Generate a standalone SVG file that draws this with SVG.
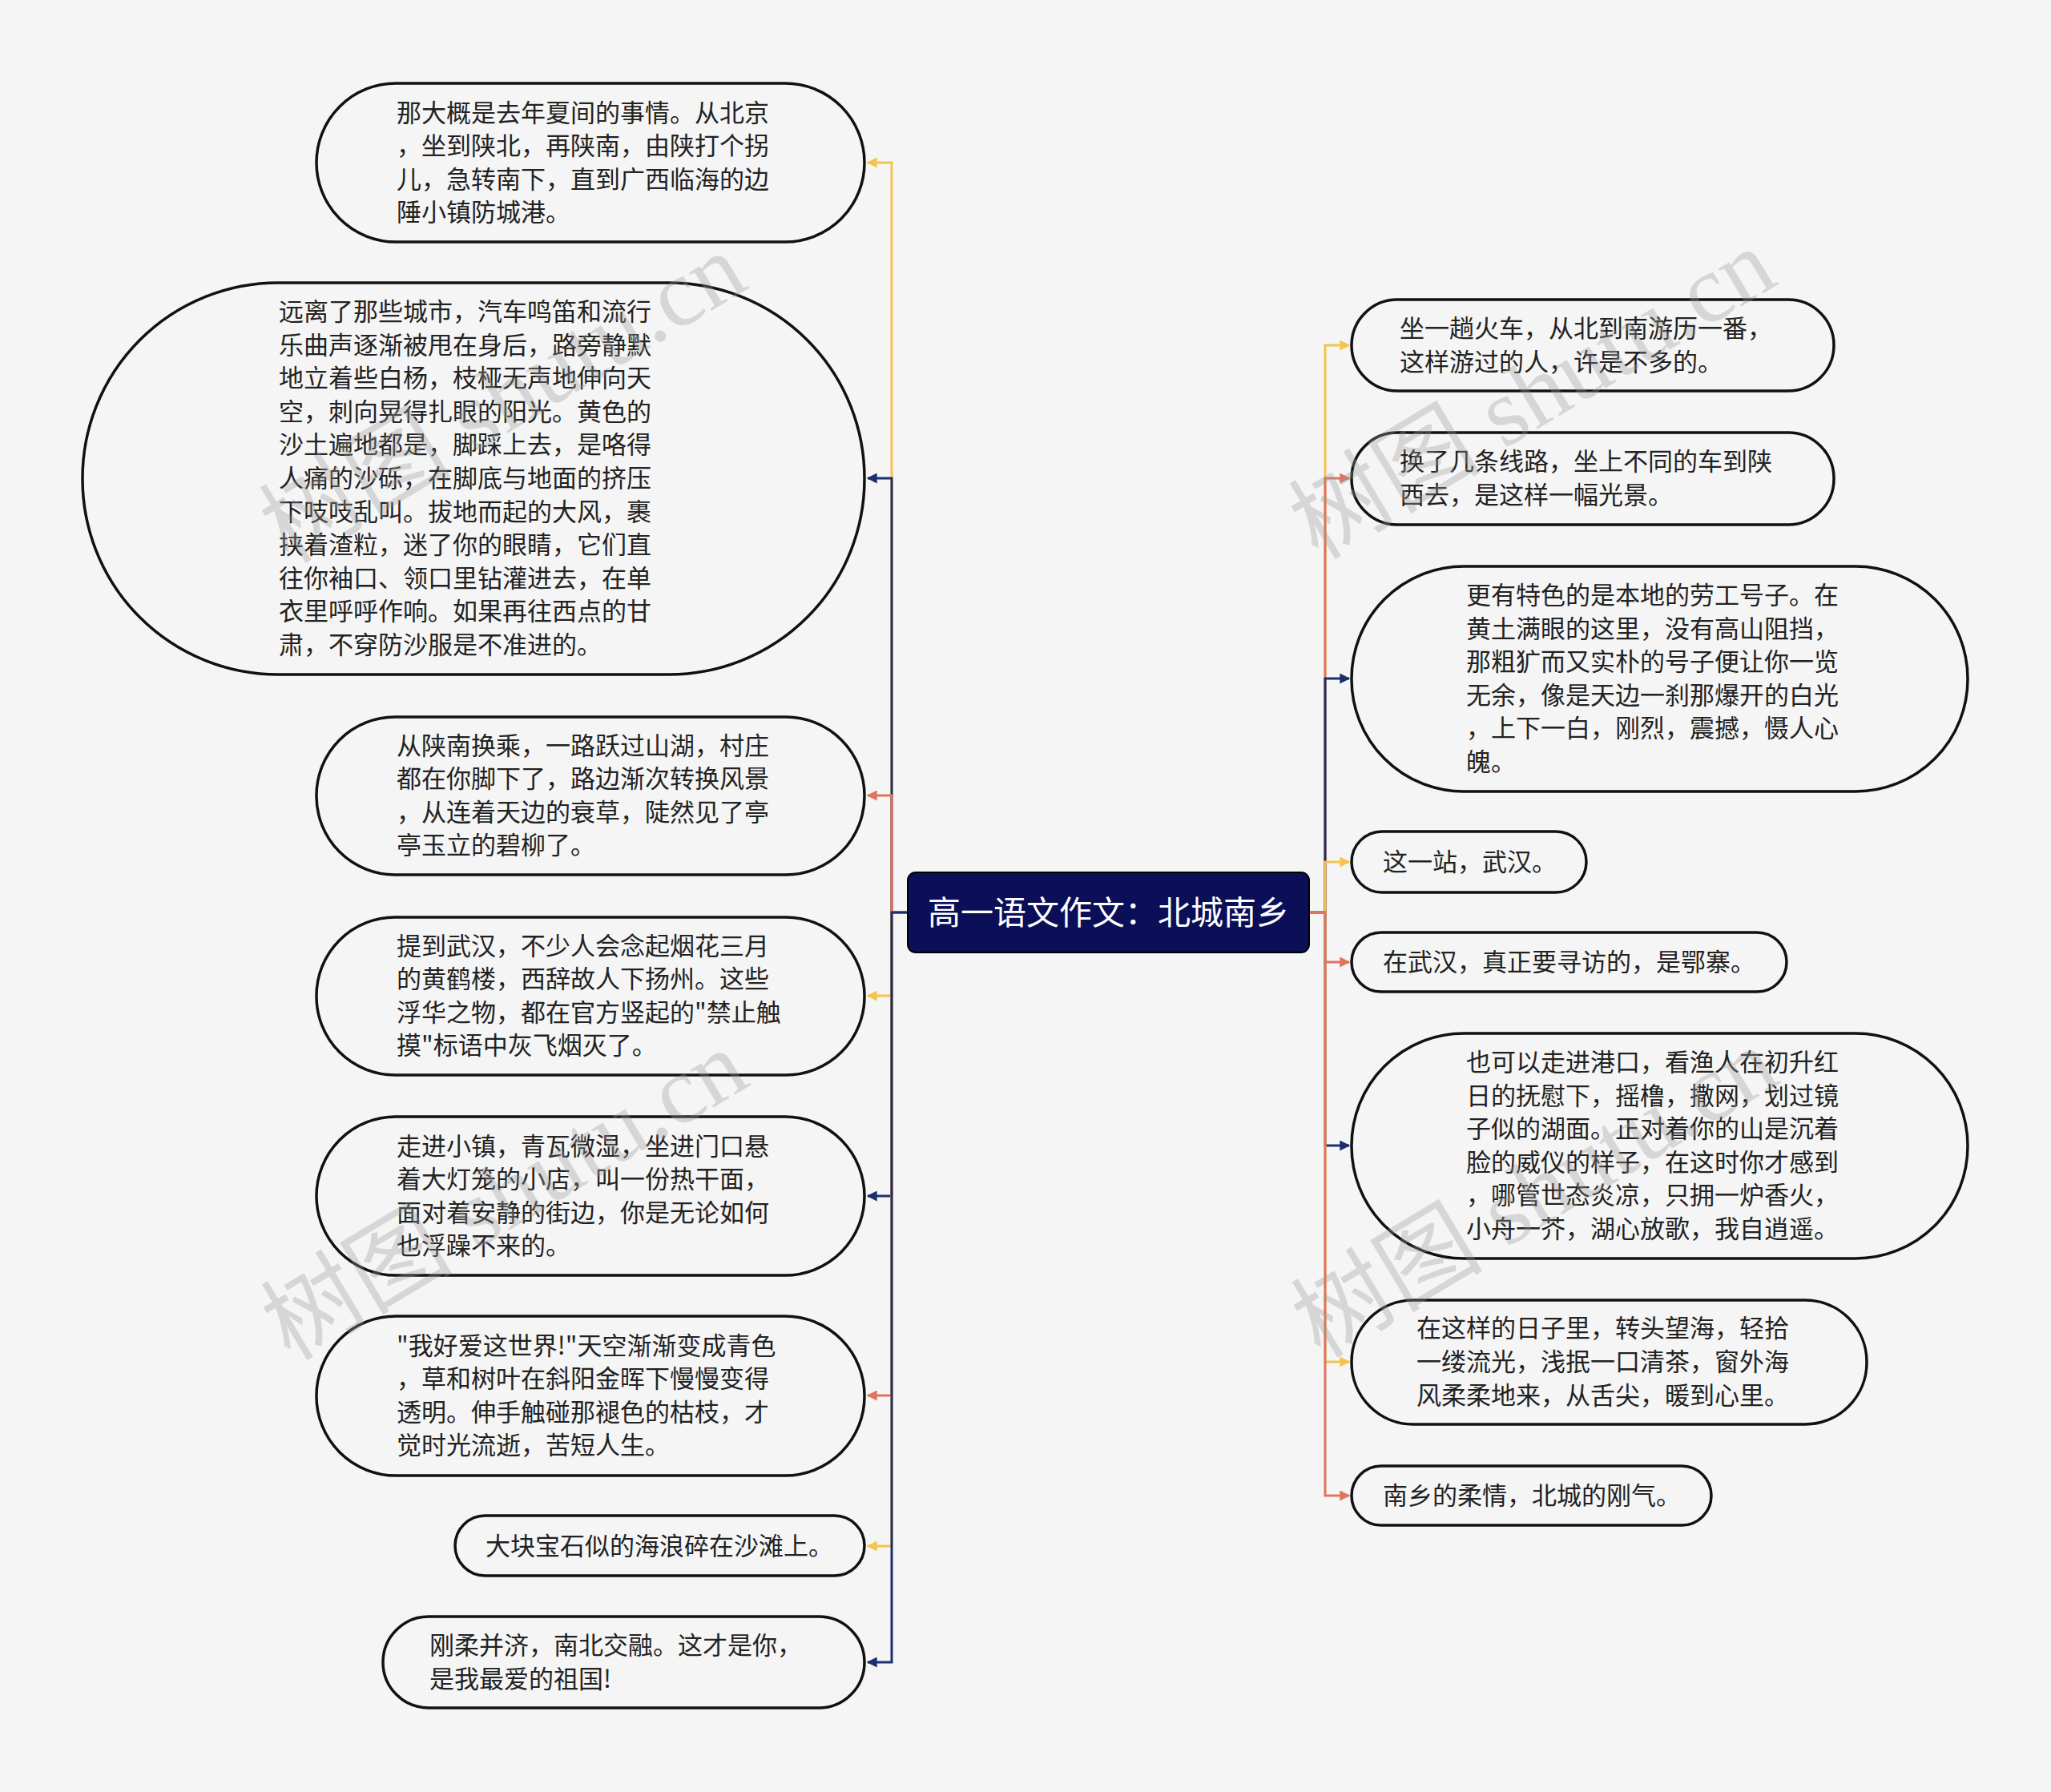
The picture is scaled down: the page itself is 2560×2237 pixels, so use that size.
<svg xmlns="http://www.w3.org/2000/svg" width="2560" height="2237" viewBox="0 0 2560 2237">
<defs>
<style>
.node{fill:#f5f5f5;stroke:#111;stroke-width:3.5}
.t{font-family:"Noto Sans CJK SC","Liberation Sans",sans-serif;font-size:31px;fill:#222}
.ct{font-family:"Noto Sans CJK SC","Liberation Sans",sans-serif;font-size:41px;fill:#fff}
.c{fill:none;stroke-width:3}
.y{stroke:#F4C44F}
.r{stroke:#DF7460}
.n{stroke:#1C2E6E}
.wm{font-family:"Liberation Serif","Noto Sans CJK SC",serif;font-size:120px;fill:#999;opacity:0.33}
</style>
<marker id="ay" viewBox="0 0 10 10" refX="9" refY="5" markerWidth="14" markerHeight="13" markerUnits="userSpaceOnUse" orient="auto"><path d="M0 0L10 5L0 10z" fill="#F4C44F"/></marker>
<marker id="ar" viewBox="0 0 10 10" refX="9" refY="5" markerWidth="14" markerHeight="13" markerUnits="userSpaceOnUse" orient="auto"><path d="M0 0L10 5L0 10z" fill="#DF7460"/></marker>
<marker id="an" viewBox="0 0 10 10" refX="9" refY="5" markerWidth="14" markerHeight="13" markerUnits="userSpaceOnUse" orient="auto"><path d="M0 0L10 5L0 10z" fill="#1C2E6E"/></marker>
</defs>
<rect width="2560" height="2237" fill="#f5f5f5"/>
<g id="connectors">
<path class="c y" d="M1133 1139H1113V203H1083" marker-end="url(#ay)"/>
<path class="c n" d="M1133 1139H1113V597H1083" marker-end="url(#an)"/>
<path class="c r" d="M1133 1139H1113V993H1083" marker-end="url(#ar)"/>
<path class="c y" d="M1133 1139H1113V1243H1083" marker-end="url(#ay)"/>
<path class="c n" d="M1133 1139H1113V1493H1083" marker-end="url(#an)"/>
<path class="c r" d="M1133 1139H1113V1742H1083" marker-end="url(#ar)"/>
<path class="c y" d="M1133 1139H1113V1930H1083" marker-end="url(#ay)"/>
<path class="c n" d="M1133 1139H1113V2075H1083" marker-end="url(#an)"/>
<path class="c y" d="M1634 1139H1654V431H1684" marker-end="url(#ay)"/>
<path class="c r" d="M1634 1139H1654V597H1684" marker-end="url(#ar)"/>
<path class="c n" d="M1634 1139H1654V847H1684" marker-end="url(#an)"/>
<path class="c y" d="M1634 1139H1654V1076H1684" marker-end="url(#ay)"/>
<path class="c r" d="M1634 1139H1654V1201H1684" marker-end="url(#ar)"/>
<path class="c n" d="M1634 1139H1654V1430H1684" marker-end="url(#an)"/>
<path class="c y" d="M1634 1139H1654V1700H1684" marker-end="url(#ay)"/>
<path class="c r" d="M1634 1139H1654V1867H1684" marker-end="url(#ar)"/>
</g>
<g id="center">
<rect x="1133" y="1089" width="501" height="100" rx="10" fill="#0B0F57" stroke="#000" stroke-width="2"/>
<text class="ct" x="1383.5" y="1154" text-anchor="middle">高一语文作文：北城南乡</text>
</g>
<g id="L1">
<rect class="node" x="395" y="104" width="684" height="198" rx="99"/>
<text class="t"><tspan x="495" y="152">那大概是去年夏间的事情。从北京</tspan><tspan x="495" y="193">，坐到陕北，再陕南，由陕打个拐</tspan><tspan x="495" y="235">儿，急转南下，直到广西临海的边</tspan><tspan x="495" y="276">陲小镇防城港。</tspan></text>
</g>
<g id="L2">
<rect class="node" x="103" y="353" width="976" height="489" rx="244"/>
<text class="t"><tspan x="348" y="400">远离了那些城市，汽车鸣笛和流行</tspan><tspan x="348" y="442">乐曲声逐渐被甩在身后，路旁静默</tspan><tspan x="348" y="483">地立着些白杨，枝桠无声地伸向天</tspan><tspan x="348" y="525">空，刺向晃得扎眼的阳光。黄色的</tspan><tspan x="348" y="566">沙土遍地都是，脚踩上去，是咯得</tspan><tspan x="348" y="608">人痛的沙砾，在脚底与地面的挤压</tspan><tspan x="348" y="650">下吱吱乱叫。拔地而起的大风，裹</tspan><tspan x="348" y="691">挟着渣粒，迷了你的眼睛，它们直</tspan><tspan x="348" y="733">往你袖口、领口里钻灌进去，在单</tspan><tspan x="348" y="774">衣里呼呼作响。如果再往西点的甘</tspan><tspan x="348" y="816">肃，不穿防沙服是不准进的。</tspan></text>
</g>
<g id="L3">
<rect class="node" x="395" y="895" width="684" height="197" rx="98"/>
<text class="t"><tspan x="495" y="942">从陕南换乘，一路跃过山湖，村庄</tspan><tspan x="495" y="983">都在你脚下了，路边渐次转换风景</tspan><tspan x="495" y="1025">，从连着天边的衰草，陡然见了亭</tspan><tspan x="495" y="1066">亭玉立的碧柳了。</tspan></text>
</g>
<g id="L4">
<rect class="node" x="395" y="1145" width="684" height="197" rx="98"/>
<text class="t"><tspan x="495" y="1192">提到武汉，不少人会念起烟花三月</tspan><tspan x="495" y="1233">的黄鹤楼，西辞故人下扬州。这些</tspan><tspan x="495" y="1275">浮华之物，都在官方竖起的"禁止触</tspan><tspan x="495" y="1316">摸"标语中灰飞烟灭了。</tspan></text>
</g>
<g id="L5">
<rect class="node" x="395" y="1394" width="684" height="198" rx="99"/>
<text class="t"><tspan x="495" y="1442">走进小镇，青瓦微湿，坐进门口悬</tspan><tspan x="495" y="1483">着大灯笼的小店，叫一份热干面，</tspan><tspan x="495" y="1525">面对着安静的街边，你是无论如何</tspan><tspan x="495" y="1566">也浮躁不来的。</tspan></text>
</g>
<g id="L6">
<rect class="node" x="395" y="1643" width="684" height="199" rx="99"/>
<text class="t"><tspan x="495" y="1691">"我好爱这世界!"天空渐渐变成青色</tspan><tspan x="495" y="1732">，草和树叶在斜阳金晖下慢慢变得</tspan><tspan x="495" y="1774">透明。伸手触碰那褪色的枯枝，才</tspan><tspan x="495" y="1815">觉时光流逝，苦短人生。</tspan></text>
</g>
<g id="L7">
<rect class="node" x="568" y="1892" width="511" height="75" rx="37.5"/>
<text class="t" x="606" y="1941">大块宝石似的海浪碎在沙滩上。</text>
</g>
<g id="L8">
<rect class="node" x="478" y="2018" width="601" height="114" rx="57"/>
<text class="t"><tspan x="536" y="2065">刚柔并济，南北交融。这才是你，</tspan><tspan x="536" y="2107">是我最爱的祖国!</tspan></text>
</g>
<g id="R1">
<rect class="node" x="1687" y="374" width="602" height="114" rx="57"/>
<text class="t"><tspan x="1747" y="421">坐一趟火车，从北到南游历一番，</tspan><tspan x="1747" y="463">这样游过的人，许是不多的。</tspan></text>
</g>
<g id="R2">
<rect class="node" x="1687" y="540" width="602" height="115" rx="57"/>
<text class="t"><tspan x="1747" y="587">换了几条线路，坐上不同的车到陕</tspan><tspan x="1747" y="629">西去，是这样一幅光景。</tspan></text>
</g>
<g id="R3">
<rect class="node" x="1687" y="707" width="769" height="281" rx="140"/>
<text class="t"><tspan x="1830" y="754">更有特色的是本地的劳工号子。在</tspan><tspan x="1830" y="796">黄土满眼的这里，没有高山阻挡，</tspan><tspan x="1830" y="837">那粗犷而又实朴的号子便让你一览</tspan><tspan x="1830" y="879">无余，像是天边一刹那爆开的白光</tspan><tspan x="1830" y="920">，上下一白，刚烈，震撼，慑人心</tspan><tspan x="1830" y="962">魄。</tspan></text>
</g>
<g id="R4">
<rect class="node" x="1687" y="1038" width="293" height="76" rx="38"/>
<text class="t" x="1726" y="1087">这一站，武汉。</text>
</g>
<g id="R5">
<rect class="node" x="1687" y="1164" width="543" height="74" rx="37"/>
<text class="t" x="1726" y="1212">在武汉，真正要寻访的，是鄂寨。</text>
</g>
<g id="R6">
<rect class="node" x="1687" y="1290" width="769" height="281" rx="140"/>
<text class="t"><tspan x="1830" y="1337">也可以走进港口，看渔人在初升红</tspan><tspan x="1830" y="1379">日的抚慰下，摇橹，撒网，划过镜</tspan><tspan x="1830" y="1420">子似的湖面。正对着你的山是沉着</tspan><tspan x="1830" y="1462">脸的威仪的样子，在这时你才感到</tspan><tspan x="1830" y="1503">，哪管世态炎凉，只拥一炉香火，</tspan><tspan x="1830" y="1545">小舟一芥，湖心放歌，我自逍遥。</tspan></text>
</g>
<g id="R7">
<rect class="node" x="1687" y="1623" width="643" height="155" rx="77"/>
<text class="t"><tspan x="1768" y="1669">在这样的日子里，转头望海，轻拾</tspan><tspan x="1768" y="1711">一缕流光，浅抿一口清茶，窗外海</tspan><tspan x="1768" y="1753">风柔柔地来，从舌尖，暖到心里。</tspan></text>
</g>
<g id="R8">
<rect class="node" x="1687" y="1830" width="449" height="74" rx="37"/>
<text class="t" x="1726" y="1878">南乡的柔情，北城的刚气。</text>
</g>
<g id="watermarks">
<text class="wm" transform="translate(360 705) rotate(-31)">树图 shutu.cn</text>
<text class="wm" transform="translate(1645 700) rotate(-31)">树图 shutu.cn</text>
<text class="wm" transform="translate(362 1700) rotate(-31)">树图 shutu.cn</text>
<text class="wm" transform="translate(1648 1697) rotate(-31)">树图 shutu.cn</text>
</g>
</svg>
